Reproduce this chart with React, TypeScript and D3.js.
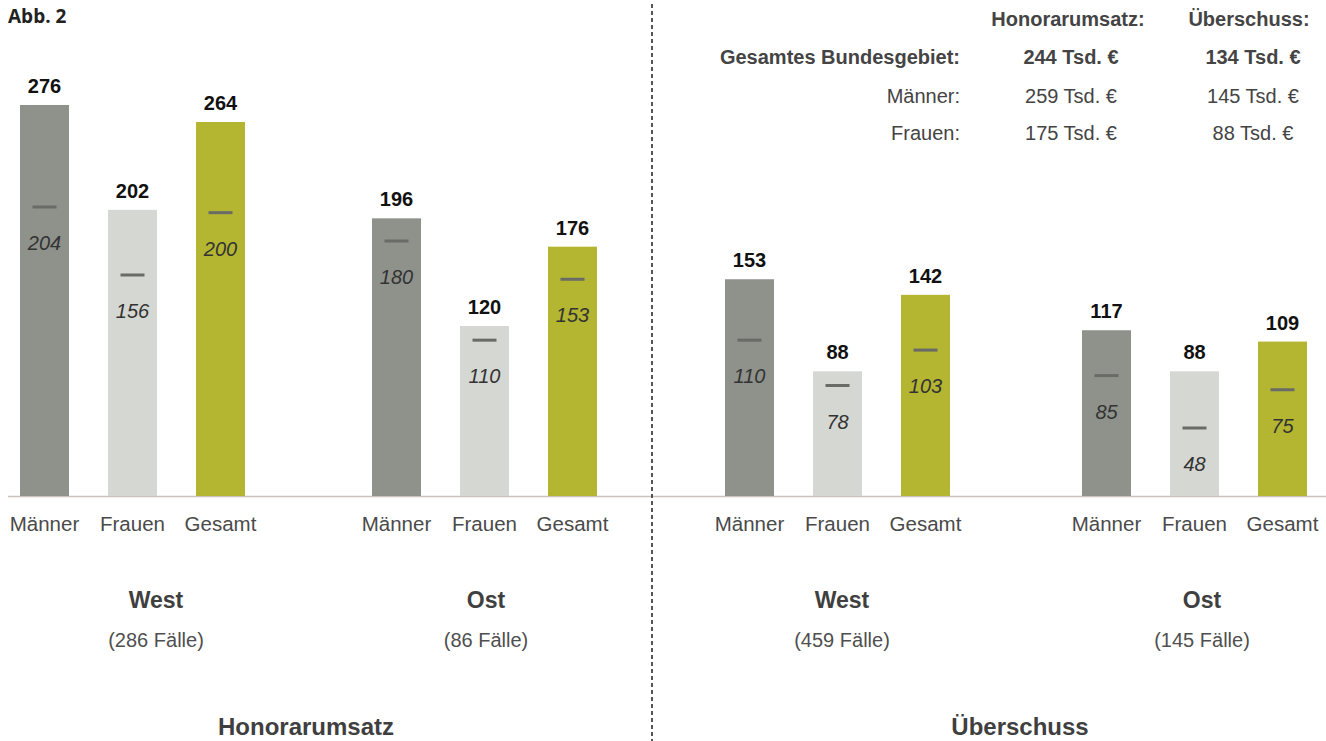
import React from "react";
import * as d3 from "d3";

const categories = ["Männer", "Frauen", "Gesamt"];
const regions = ["West", "Ost"];
const panels = ["Honorarumsatz", "Überschuss"];

// mean values (Tsd. €)
const honorarWest = [276, 202, 264];
const honorarOst = [196, 120, 176];
const ueberWest = [153, 88, 142];
const ueberOst = [117, 88, 109];
// medians
const honorarWestMed = [204, 156, 200];
const honorarOstMed = [180, 110, 153];
const ueberWestMed = [110, 78, 103];
const ueberOstMed = [85, 48, 75];

const faelle = [["286", "86"], ["459", "145"]];

const tableHeaders = ["Honorarumsatz:", "Überschuss:"];
const tableRows = ["Gesamtes Bundesgebiet:", "Männer:", "Frauen:"];
const tableHonorar = ["244 Tsd. €", "259 Tsd. €", "175 Tsd. €"];
const tableUeber = ["134 Tsd. €", "145 Tsd. €", "88 Tsd. €"];

const colors = ["#8e928b", "#d5d7d2", "#b4b632"];
const font = "'Liberation Sans', Arial, sans-serif";

export default function App() {
  const W = 1326, H = 741;
  const baseline = 496;
  const y = d3.scaleLinear().domain([0, 276]).range([baseline, baseline - 391]);
  const panelX = d3.scaleOrdinal<string, number>().domain(panels).range([20, 725]);
  const regionOffsets = [[0, 352], [0, 357]];
  const catX = d3.scaleBand().domain(categories).range([0, 225]).paddingInner(0.443).paddingOuter(0);
  const bw = catX.bandwidth();

  const values = [[honorarWest, honorarOst], [ueberWest, ueberOst]];
  const medians = [[honorarWestMed, honorarOstMed], [ueberWestMed, ueberOstMed]];
  const regionLabelX = [[156, 486], [842, 1202]];
  const panelLabelX = [306, 1020];

  const tRowsY = [64, 103, 140];
  const tHeadX = [1068, 1249];
  const tColX = [1071, 1253];

  return (
    <svg width={W} height={H} style={{ position: "absolute", left: 0, top: 0, background: "#fff" }} fontFamily={font}>
      <text x={8} y={23} fontSize={19} fontWeight="bold" fill="#222" fontFamily="'Open Sans', sans-serif">Abb. 2</text>
      {/* baseline */}
      <line x1={8} x2={W} y1={baseline + 0.5} y2={baseline + 0.5} stroke="#c9c2bd" strokeWidth={1.5} />
      {/* dashed divider */}
      <line x1={652} x2={652} y1={4} y2={H} stroke="#555" strokeWidth={2} strokeDasharray="4 3" />
      {panels.map((p, pi) =>
        regions.map((r, ri) => {
          const gx = panelX(p) + regionOffsets[pi][ri];
          return (
            <g key={p + r}>
              {categories.map((c, ci) => {
                const v = values[pi][ri][ci];
                const m = medians[pi][ri][ci];
                const x = gx + (catX(c) as number);
                const cx = x + bw / 2;
                return (
                  <g key={c}>
                    <rect x={x} y={y(v)} width={bw} height={baseline - y(v)} fill={colors[ci]} />
                    <text x={cx} y={y(v) - 12} textAnchor="middle" fontSize={20} fontWeight="bold" fill="#111">{v}</text>
                    <line x1={cx - 12} x2={cx + 12} y1={y(m)} y2={y(m)} stroke="#686b66" strokeWidth={3} />
                    <text x={cx} y={y(m) + 43} textAnchor="middle" fontSize={20} fontStyle="italic" fill="#333">{m}</text>
                    <text x={cx} y={baseline + 35} textAnchor="middle" fontSize={20.5} fill="#4a4a4a">{c}</text>
                  </g>
                );
              })}
              <text x={regionLabelX[pi][ri]} y={608} textAnchor="middle" fontSize={23} fontWeight="bold" fill="#3f3f3f">{r}</text>
              <text x={regionLabelX[pi][ri]} y={647} textAnchor="middle" fontSize={20} fill="#4f4f4f">({faelle[pi][ri]} Fälle)</text>
            </g>
          );
        })
      )}
      {panels.map((p, pi) => (
        <text key={p} x={panelLabelX[pi]} y={735} textAnchor="middle" fontSize={24} fontWeight="bold" fill="#3f3f3f">{p}</text>
      ))}
      {/* summary table */}
      {tableHeaders.map((h, i) => (
        <text key={h} x={tHeadX[i]} y={26} textAnchor="middle" fontSize={20} fontWeight="bold" fill="#444">{h}</text>
      ))}
      {tableRows.map((r, i) => (
        <g key={r}>
          <text x={960} y={tRowsY[i]} textAnchor="end" fontSize={20} fontWeight={i === 0 ? "bold" : "normal"} fill="#444">{r}</text>
          <text x={tColX[0]} y={tRowsY[i]} textAnchor="middle" fontSize={20} fontWeight={i === 0 ? "bold" : "normal"} fill="#444">{tableHonorar[i]}</text>
          <text x={tColX[1]} y={tRowsY[i]} textAnchor="middle" fontSize={20} fontWeight={i === 0 ? "bold" : "normal"} fill="#444">{tableUeber[i]}</text>
        </g>
      ))}
    </svg>
  );
}
